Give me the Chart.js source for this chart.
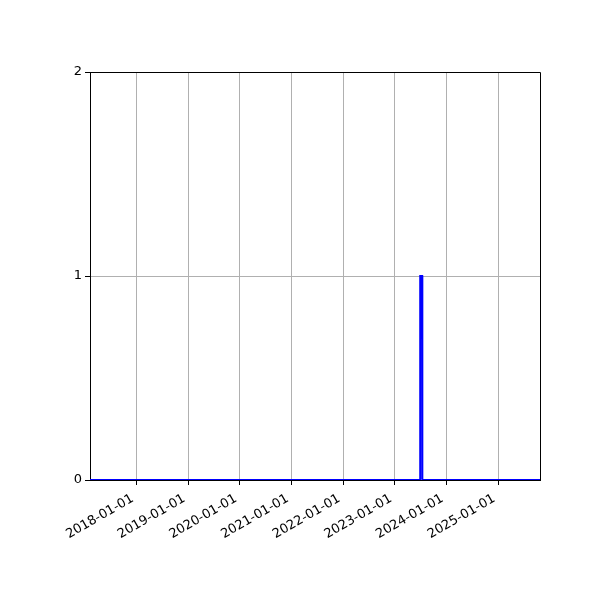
<!DOCTYPE html>
<html>
<head>
<meta charset="utf-8">
<script src="https://cdn.jsdelivr.net/npm/chart.js@4"></script>
<style>
  html, body { margin: 0; padding: 0; background: #fff; }
  #wrap { width: 600px; height: 600px; }
</style>
</head>
<body>
<div id="wrap"><canvas id="chart"></canvas></div>
<script>
// dates of the series points and their values
const dates = ['2017-01-01', '2023-06-28', '2023-06-29', '2023-07-13', '2023-07-14', '2026-01-01'];
const values = [0, 0, 1, 1, 0, 0];
// visible range and year ticks
const xMin = '2017-02-05';
const xMax = '2025-10-23';
const tickDates = ['2018-01-01', '2019-01-01', '2020-01-01', '2021-01-01',
    '2022-01-01', '2023-01-01', '2024-01-01', '2025-01-01'];
const yTicks = [0, 1, 2];

const toMs = (s) => Date.parse(s + 'T00:00:00Z');
const fmt = (ms) => new Date(ms).toISOString().slice(0, 10);

// draws the top and right frame lines like matplotlib spines
const framePlugin = {
    id: 'frame',
    afterDraw(chart) {
        const { ctx, chartArea: a } = chart;
        ctx.save();
        ctx.strokeStyle = '#000';
        ctx.lineWidth = 1;
        ctx.beginPath();
        ctx.moveTo(a.left, a.top + 0.5);
        ctx.lineTo(a.right + 0.5, a.top + 0.5);
        ctx.lineTo(a.right + 0.5, a.bottom);
        ctx.stroke();
        ctx.restore();
    }
};

const ctx = document.getElementById('chart').getContext('2d');
new Chart(ctx, {
    type: 'line',
    data: {
        datasets: [{
            data: dates.map((d, i) => ({ x: toMs(d), y: values[i] })),
            borderColor: '#0000ff',
            borderWidth: 2,
            pointRadius: 0,
            tension: 0,
            fill: false
        }]
    },
    options: {
        responsive: true,
        maintainAspectRatio: false,
        animation: false,
        events: [],
        layout: { padding: { top: 72, right: 60, left: 0, bottom: 0 } },
        plugins: {
            legend: { display: false },
            tooltip: { enabled: false }
        },
        scales: {
            x: {
                type: 'linear',
                min: toMs(xMin),
                max: toMs(xMax),
                afterBuildTicks: (axis) => {
                    axis.ticks = tickDates.map(d => ({ value: toMs(d) }));
                },
                afterFit: (axis) => { axis.height = 120; },
                ticks: {
                    callback: (v) => fmt(v),
                    minRotation: 30,
                    maxRotation: 30,
                    autoSkip: false,
                    color: '#000',
                    padding: 6,
                    labelOffset: -4,
                    font: { family: 'DejaVu Sans', size: 13 }
                },
                grid: {
                    color: '#b0b0b0',
                    lineWidth: 1,
                    tickColor: '#000',
                    tickLength: 5
                },
                border: { color: '#000', width: 1 }
            },
            y: {
                min: 0,
                max: 2,
                afterBuildTicks: (axis) => {
                    axis.ticks = yTicks.map(v => ({ value: v }));
                },
                afterFit: (axis) => { axis.width = 90; },
                ticks: {
                    color: '#000',
                    padding: 3,
                    font: { family: 'DejaVu Sans', size: 13 }
                },
                grid: {
                    color: '#b0b0b0',
                    lineWidth: 1,
                    tickColor: '#000',
                    tickLength: 5
                },
                border: { color: '#000', width: 1 }
            }
        }
    },
    plugins: [framePlugin]
});
</script>
</body>
</html>
